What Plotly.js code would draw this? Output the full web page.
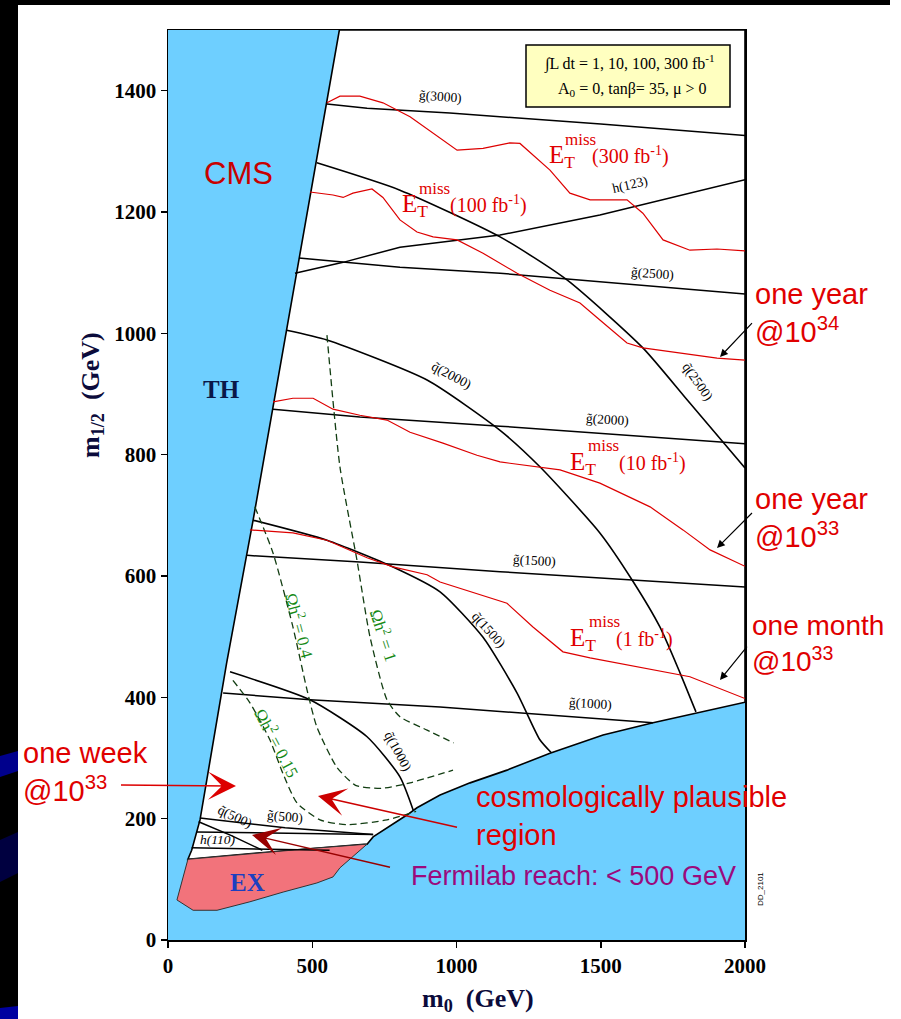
<!DOCTYPE html>
<html>
<head>
<meta charset="utf-8">
<script src="https://cdn.plot.ly/plotly-3.0.1.min.js"></script>
<style>html,body{margin:0;padding:0;background:#fff;}#chart{width:901px;height:1019px;}</style>
</head>
<body>
<div id="chart"></div>
<script>
// ---------------- data (m0, m1/2 in GeV) ----------------
const xTicks = [0, 500, 1000, 1500, 2000];
const yTicks = [0, 200, 400, 600, 800, 1000, 1200, 1400];

// allowed (white) region: theory boundary (TH) and LSP / cosmology boundary
const thX = [594, 550, 433, 411, 295, 203, 111, 82, 69];
const thY = [1500, 1378, 1066, 1005, 692, 456, 198, 148, 133];
const lspX = [2000, 1681, 1508, 1324, 1175, 1047, 943, 863, 828, 711, 690];
const lspY = [392, 358, 338, 308, 280, 259, 239, 218, 206, 170, 158];
// experimentally excluded region (EX)
const exX = [69, 300, 500, 690, 596, 572, 516, 399, 284, 170, 87, 31, 69];
const exY = [133, 143, 151, 158, 119, 104, 94, 79, 63, 49, 49, 66, 133];

// gluino mass contours
const g3000X = [551, 690, 977, 1500, 2000];   const g3000Y = [1378, 1371, 1363, 1345, 1326];
const g2500X = [454, 804, 1151, 1497, 2000];  const g2500Y = [1124, 1109, 1099, 1085, 1065];
const g2000X = [364, 665, 1151, 2000];        const g2000Y = [875, 862, 847, 818];
const g1500X = [274, 665, 1151, 2000];        const g1500Y = [634, 623, 607, 582];
const g1000X = [191, 492, 943, 1300, 1681];   const g1000Y = [407, 396, 384, 372, 358];
const g500X = [111, 406, 711];                const g500Y = [201, 185, 174];
// squark mass contours
const q2500X = [516, 804, 1151, 1383, 1646, 1800, 2000]; const q2500Y = [1281, 1236, 1159, 1088, 976, 890, 778];
const q2000X = [411, 551, 898, 1151, 1289, 1497, 1612, 1705, 1775, 1830]; const q2000Y = [1005, 989, 923, 840, 780, 671, 591, 516, 440, 376];
const q1500X = [295, 551, 780, 943, 1092, 1210, 1289, 1328]; const q1500Y = [692, 659, 615, 574, 499, 407, 330, 309];
const q1000X = [215, 492, 690, 804, 850];     const q1000Y = [442, 396, 335, 269, 214];
const q500X = [106, 220, 327];                const q500Y = [195, 172, 148];
// light Higgs mass contours
const h123X = [440, 607, 804, 1151, 1497, 2000]; const h123Y = [1099, 1117, 1142, 1162, 1195, 1253];
const h110X = [82, 330, 560];                 const h110Y = [152, 150, 148];
const h110bX = [100, 400, 711];               const h110bY = [178, 176, 174];

// relic density contours (Omega h^2)
const om1X = [551, 596, 655, 700, 759, 804, 898, 990];   const om1Y = [997, 780, 626, 500, 396, 368, 346, 325];
const om04X = [301, 364, 433, 482, 516, 585, 650, 740, 839, 988]; const om04Y = [714, 638, 516, 412, 351, 285, 255, 250, 259, 280];
const om015X = [225, 284, 353, 398, 447, 527, 620, 759, 860]; const om015Y = [428, 391, 330, 275, 226, 198, 190, 198, 212];

// missing-ET reach curves
const et300X = [551, 596, 665, 745, 839, 919, 1002, 1092, 1185, 1220, 1324, 1393, 1463, 1591, 1646, 1716, 1809, 1903, 2000];
const et300Y = [1380, 1391, 1391, 1380, 1357, 1330, 1302, 1305, 1314, 1313, 1269, 1231, 1220, 1220, 1198, 1154, 1137, 1139, 1136];
const et100X = [492, 572, 607, 641, 707, 745, 804, 863, 919, 1002, 1092, 1210, 1324, 1428, 1497, 1591, 1646, 1785, 1903, 2000];
const et100Y = [1233, 1228, 1224, 1231, 1238, 1224, 1187, 1167, 1159, 1154, 1132, 1099, 1071, 1050, 1022, 984, 976, 967, 959, 956];
const et10X = [364, 433, 503, 572, 665, 759, 839, 953, 1071, 1151, 1359, 1497, 1671, 1785, 1879, 2000];
const et10Y = [887, 893, 893, 875, 865, 857, 837, 819, 799, 788, 775, 753, 714, 676, 643, 616];
const et1X = [284, 433, 551, 690, 780, 898, 943, 1175, 1265, 1369, 1463, 1636, 1809, 2000];
const et1Y = [676, 671, 659, 630, 615, 602, 590, 555, 516, 475, 465, 450, 434, 398];

// ---------------- build ----------------
const P = (px, py) => ({x: (px - 168) / 577, y: (940 - py) / 910});
const RED = '#e00000';
const traces = [];
function addLine(x, y, color, width, dash, shape) {
  traces.push({x, y, type: 'scatter', mode: 'lines', hoverinfo: 'skip',
    line: {color, width, dash: dash || 'solid', shape: shape || 'linear', smoothing: 0.6}});
}
// white allowed region
const whiteX = [594, 2000].concat(lspX, [500, 300], thX.slice().reverse());
const whiteY = [1500, 1500].concat(lspY, [151, 143], thY.slice().reverse());
traces.push({x: whiteX, y: whiteY, type: 'scatter', mode: 'lines', fill: 'toself', fillcolor: '#ffffff',
  line: {color: '#000', width: 1.6}, hoverinfo: 'skip'});
traces.push({x: exX, y: exY, type: 'scatter', mode: 'lines', fill: 'toself', fillcolor: '#f2737b',
  line: {color: '#333', width: 1}, hoverinfo: 'skip'});

[[g3000X, g3000Y], [g2500X, g2500Y], [g2000X, g2000Y], [g1500X, g1500Y], [g1000X, g1000Y], [g500X, g500Y],
 [h123X, h123Y], [h110X, h110Y], [h110bX, h110bY], [q500X, q500Y]].forEach(a => addLine(a[0], a[1], '#000', 1.5));
[[q2500X, q2500Y], [q2000X, q2000Y], [q1500X, q1500Y], [q1000X, q1000Y]].forEach(a => addLine(a[0], a[1], '#000', 1.6, 'solid', 'spline'));
[[om1X, om1Y], [om04X, om04Y], [om015X, om015Y]].forEach(a => addLine(a[0], a[1], '#123d12', 1.3, '7px,4px', 'spline'));
[[et300X, et300Y], [et100X, et100Y], [et10X, et10Y], [et1X, et1Y]].forEach(a => addLine(a[0], a[1], '#dd0000', 1.2));

const ann = [];
function txt(px, py, text, font, opts) {
  const p = P(px, py);
  ann.push(Object.assign({xref: 'paper', yref: 'paper', x: p.x, y: p.y, text, showarrow: false, font,
    xanchor: 'center', yanchor: 'middle'}, opts || {}));
}
function dlab(x, y, text, angle, font) {
  ann.push({xref: 'x', yref: 'y', x, y, text, showarrow: false, textangle: angle, xanchor: 'center', yanchor: 'middle',
    font: font || {family: 'Liberation Serif', size: 13.5, color: '#000'}});
}
function arrow(hx, hy, tx, ty, color, head, size, width) {
  const p = P(hx, hy);
  ann.push({xref: 'paper', yref: 'paper', x: p.x, y: p.y, ax: tx - hx, ay: ty - hy, text: ' ', showarrow: true,
    arrowhead: head, arrowsize: size, arrowwidth: width, arrowcolor: color, standoff: 0, startstandoff: 0});
}
const sans = (s, c) => ({family: 'Liberation Sans, Arial, sans-serif', size: s, color: c || RED});
const serif = (s, c, w) => ({family: 'Liberation Serif, Times New Roman, serif', size: s, color: c || '#000', weight: w || 'normal'});

// axis titles
txt(92, 395, 'm<sub>1/2</sub>\u00A0\u00A0(GeV)', serif(26, '#0b0b3b', 'bold'), {textangle: -90});
txt(478, 1000, 'm<sub>0</sub>\u00A0\u00A0(GeV)', serif(26, '#0b0b3b', 'bold'));

// region labels
txt(238, 173, 'CMS', sans(31, '#c80000'));
txt(221, 389, 'TH', serif(25, '#0a1848', 'bold'));
txt(247, 882, 'EX', serif(25, '#1b40c0', 'bold'));

// legend box text
txt(629, 63, '\u222BL dt = 1, 10, 100, 300 fb<sup>-1</sup>', serif(16, '#000'));
txt(632, 89, 'A<sub>0</sub> = 0, tan\u03B2= 35, \u03BC > 0', serif(16, '#000'));

// curve labels
dlab(943, 1391, 'g\u0303(3000)', 4);
dlab(1601, 1245, 'h(123)', -13);
dlab(1681, 1099, 'g\u0303(2500)', 4);
dlab(1835, 920, 'q\u0303(2500)', 55);
dlab(984, 930, 'q\u0303(2000)', 28);
dlab(1525, 858, 'g\u0303(2000)', 3);
dlab(1272, 626, 'g\u0303(1500)', 3);
dlab(1110, 511, 'q\u0303(1500)', 48);
dlab(1463, 390, 'g\u0303(1000)', 3);
dlab(797, 310, 'q\u0303(1000)', 62);
dlab(406, 203, 'g\u0303(500)', 5);
dlab(232, 204, 'q\u0303(500)', 25);
dlab(172, 165, '<i>h(110)</i>', 0);
const gfont = {family: 'Liberation Serif, serif', size: 17, color: '#168a16'};
dlab(458, 519, '\u03A9h<sup>2</sup> = 0.4', 75, gfont);
dlab(751, 503, '\u03A9h<sup>2</sup> = 1', 72, gfont);
dlab(381, 325, '\u03A9h<sup>2</sup> = 0.15', 62, gfont);

// missing ET labels: E with subscript T, superscript "miss", luminosity
function etLabel(ex, ey, missLeft, parenLeft, lum) {
  txt(ex + 4, ey + 4, 'E<sub>T</sub>', serif(25, RED));
  txt(missLeft, ey - 14, 'miss', serif(17, RED), {xanchor: 'left'});
  txt(parenLeft, ey + 3, '(' + lum + ' fb<sup>-1</sup>)', serif(20, RED), {xanchor: 'left'});
}
etLabel(558, 153, 563, 590, '300');
etLabel(411, 202, 417, 448, '100');
etLabel(579, 459, 586, 617, '10');
etLabel(579, 635, 587, 614, '1');

// side annotations
txt(753, 313, 'one year<br>@10<sup>34</sup>', sans(29), {xanchor: 'left', align: 'left'});
txt(753, 518, 'one year<br>@10<sup>33</sup>', sans(29), {xanchor: 'left', align: 'left'});
txt(750, 643, 'one month<br>@10<sup>33</sup>', sans(28), {xanchor: 'left', align: 'left'});
txt(21, 772, 'one week<br>@10<sup>33</sup>', sans(29), {xanchor: 'left', align: 'left'});
txt(474, 816, 'cosmologically plausible<br>region', sans(29), {xanchor: 'left', align: 'left'});
txt(409, 876, 'Fermilab reach: < 500 GeV', sans(27, '#9b0a7d'), {xanchor: 'left'});
txt(760, 889, 'DD_2101', sans(8, '#000'), {textangle: -90});

// arrows
arrow(720, 357, 755, 320, '#000', 2, 1.3, 1.2);
arrow(717, 548, 755, 510, '#000', 2, 1.3, 1.2);
arrow(720, 680, 750, 643, '#000', 2, 1.3, 1.2);
arrow(236, 786, 118, 785, '#dd0000', 3, 3.1, 1.5);
arrow(318, 796, 460, 828, '#cc0000', 3, 3.1, 1.5);
arrow(252, 835, 393, 868, '#990000', 3, 3.1, 1.5);

// decorative frame (slide border)
const shapes = [];
function rectPx(x0, y0, x1, y1, fill, line, layer) {
  const a = P(x0, y1), b = P(x1, y0);
  shapes.push({type: 'rect', xref: 'paper', yref: 'paper', x0: a.x, y0: a.y, x1: b.x, y1: b.y,
    fillcolor: fill, line: line || {width: 0}, layer: layer || 'above'});
}
function polyPx(pts, fill) {
  const d = pts.map((p, i) => { const q = P(p[0], p[1]); return (i ? 'L' : 'M') + q.x + ',' + q.y; }).join(' ') + ' Z';
  shapes.push({type: 'path', xref: 'paper', yref: 'paper', path: d, fillcolor: fill, line: {width: 0}, layer: 'above'});
}
rectPx(0, 0, 890, 5, '#000');
rectPx(0, 0, 18, 1019, '#000');
polyPx([[0, 756], [18, 751], [18, 771], [0, 777]], '#00008c');
polyPx([[0, 840], [18, 832], [18, 873], [0, 882]], '#000040');
polyPx([[0, 1008], [18, 1006], [18, 1019], [0, 1019]], '#0000a0');
rectPx(526, 45, 730, 107, '#ffffc0', {color: '#000', width: 1.5}, 'above');

const axisCommon = {
  showgrid: false, zeroline: false, showline: true, mirror: true, linecolor: '#000', linewidth: 1.5,
  ticks: 'outside', ticklen: 6, tickwidth: 1.5, tickcolor: '#000',
  tickfont: {family: 'Liberation Serif, serif', size: 21, color: '#000', weight: 'bold'}, fixedrange: true
};
const layout = {
  width: 901, height: 1019,
  margin: {l: 168, r: 156, t: 30, b: 79, pad: 0},
  paper_bgcolor: '#ffffff', plot_bgcolor: '#6ecfff',
  showlegend: false,
  xaxis: Object.assign({}, axisCommon, {range: [0, 2000], tickvals: xTicks}),
  yaxis: Object.assign({}, axisCommon, {range: [0, 1500], tickvals: yTicks}),
  annotations: ann, shapes: shapes
};
Plotly.newPlot('chart', traces, layout, {staticPlot: true, displayModeBar: false});
</script>
</body>
</html>
